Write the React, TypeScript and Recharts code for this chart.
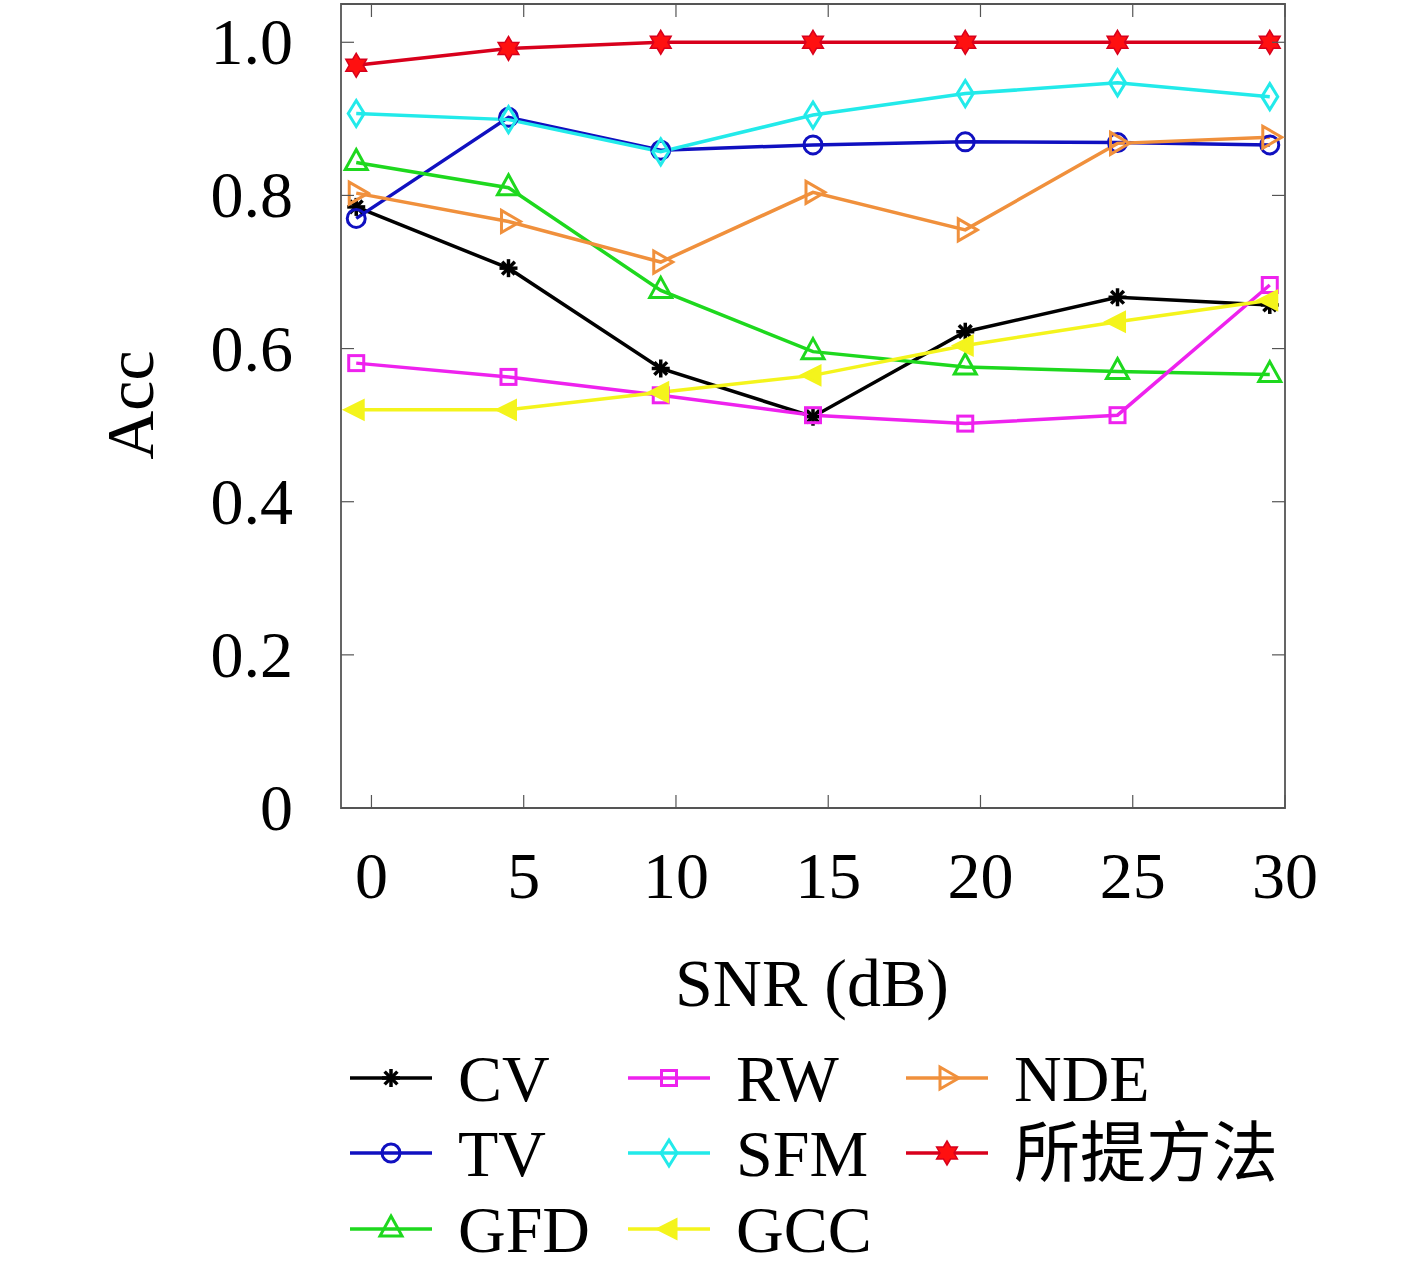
import React from "react";
import {
  LineChart,
  Line,
  XAxis,
  YAxis,
  ReferenceArea,
} from "recharts";

// SNR positions as the points sit on the axis (each about 0.5 dB left of its tick)
const snrPlotted = [-0.5, 4.5, 9.5, 14.5, 19.5, 24.5, 29.5];
const xTicks = [0, 5, 10, 15, 20, 25, 30];
const yTicks = [0, 0.2, 0.4, 0.6, 0.8, 1.0];

const cv = [0.785, 0.705, 0.574, 0.511, 0.622, 0.667, 0.657];
const tv = [0.77, 0.902, 0.859, 0.866, 0.87, 0.869, 0.866];
const gfd = [0.843, 0.81, 0.676, 0.596, 0.576, 0.57, 0.566];
const rw = [0.581, 0.563, 0.539, 0.513, 0.502, 0.513, 0.683];
const sfm = [0.907, 0.899, 0.857, 0.905, 0.933, 0.947, 0.929];
const gcc = [0.52, 0.52, 0.543, 0.565, 0.604, 0.635, 0.663];
const nde = [0.803, 0.766, 0.713, 0.804, 0.755, 0.868, 0.876];
const proposed = [0.97, 0.992, 1.0, 1.0, 1.0, 1.0, 1.0];

const series = [
  { key: "CV", values: cv, color: "#000000", marker: "asterisk" },
  { key: "TV", values: tv, color: "#1010c0", marker: "circle" },
  { key: "GFD", values: gfd, color: "#1ed81e", marker: "triangle" },
  { key: "RW", values: rw, color: "#ee22ee", marker: "square" },
  { key: "SFM", values: sfm, color: "#22eaea", marker: "diamond" },
  { key: "GCC", values: gcc, color: "#f4f41c", marker: "left" },
  { key: "NDE", values: nde, color: "#f0903c", marker: "right" },
  { key: "所提方法", values: proposed, color: "#d8001c", marker: "hexagram" },
];

const data = snrPlotted.map((snr, i) => {
  const row: Record<string, number> = { snr };
  series.forEach((s) => {
    row[s.key] = s.values[i];
  });
  return row;
});

const W = 1417;
const H = 1275;
const PLOT_LEFT = 341;
const PLOT_RIGHT = 1285;
const PLOT_TOP = 4;
const PLOT_BOTTOM = 808;
const AXIS_W = 60;
const FONT = '"Liberation Serif", "Noto Sans CJK SC", serif';
const FS = 66;
const FRAME = "#555555";
const TICK_LEN = 13;
const LINE_W = 3.5;

const Marker = ({ type, cx, cy, color }: any) => {
  if (cx == null || cy == null) return null;
  const sw = 3;
  switch (type) {
    case "asterisk": {
      const r = 9;
      const lines = [0, 45, 90, 135].map((a) => {
        const rad = (a * Math.PI) / 180;
        return (
          <line
            key={a}
            x1={cx - r * Math.cos(rad)}
            y1={cy - r * Math.sin(rad)}
            x2={cx + r * Math.cos(rad)}
            y2={cy + r * Math.sin(rad)}
            stroke={color}
            strokeWidth={3.5}
          />
        );
      });
      return <g>{lines}</g>;
    }
    case "circle":
      return <circle cx={cx} cy={cy} r={9} fill="none" stroke={color} strokeWidth={sw} />;
    case "square":
      return (
        <rect x={cx - 7.5} y={cy - 7.5} width={15} height={15} fill="none" stroke={color} strokeWidth={sw} />
      );
    case "diamond":
      return (
        <polygon
          points={`${cx},${cy - 13} ${cx + 8},${cy} ${cx},${cy + 13} ${cx - 8},${cy}`}
          fill="none"
          stroke={color}
          strokeWidth={sw}
        />
      );
    case "triangle":
      return (
        <polygon
          points={`${cx},${cy - 13} ${cx + 11},${cy + 7} ${cx - 11},${cy + 7}`}
          fill="none"
          stroke={color}
          strokeWidth={sw}
        />
      );
    case "right":
      return (
        <polygon
          points={`${cx + 12},${cy} ${cx - 7},${cy - 11} ${cx - 7},${cy + 11}`}
          fill="none"
          stroke={color}
          strokeWidth={sw}
        />
      );
    case "left":
      return (
        <polygon
          points={`${cx - 11},${cy} ${cx + 7},${cy - 9} ${cx + 7},${cy + 9}`}
          fill={color}
          stroke={color}
          strokeWidth={sw}
        />
      );
    case "hexagram": {
      const pts: string[] = [];
      for (let k = 0; k < 12; k++) {
        const r = k % 2 === 0 ? 12 : 7;
        const a = (k * 30 - 90) * (Math.PI / 180);
        pts.push(`${cx + r * Math.cos(a)},${cy + r * Math.sin(a)}`);
      }
      return <polygon points={pts.join(" ")} fill="#ff1010" stroke={color} strokeWidth={1.5} />;
    }
    default:
      return null;
  }
};

const YTick = (props: any) => {
  const { y, payload } = props;
  const v = payload.value;
  return (
    <g>
      <line x1={PLOT_LEFT} y1={y} x2={PLOT_LEFT + TICK_LEN} y2={y} stroke={FRAME} strokeWidth={1.2} />
      <line x1={PLOT_RIGHT} y1={y} x2={PLOT_RIGHT - TICK_LEN} y2={y} stroke={FRAME} strokeWidth={1.2} />
      <text x={PLOT_LEFT - 48} y={y + 22} textAnchor="end" fontFamily={FONT} fontSize={FS} fill="#000">
        {v === 0 ? "0" : v.toFixed(1)}
      </text>
    </g>
  );
};

const XTick = (props: any) => {
  const { x, payload } = props;
  return (
    <g>
      <line x1={x} y1={PLOT_BOTTOM} x2={x} y2={PLOT_BOTTOM - TICK_LEN} stroke={FRAME} strokeWidth={1.2} />
      <line x1={x} y1={PLOT_TOP} x2={x} y2={PLOT_TOP + TICK_LEN} stroke={FRAME} strokeWidth={1.2} />
      <text x={x} y={PLOT_BOTTOM + 90} textAnchor="middle" fontFamily={FONT} fontSize={FS} fill="#000">
        {payload.value}
      </text>
    </g>
  );
};

const colX = [350, 628, 906];
const rowY = [1078, 1153, 1229];
const LEGEND_TOP = 1020;

const LegendBox = () => (
  <svg
    width={W}
    height={H - LEGEND_TOP}
    style={{ position: "absolute", left: 0, top: LEGEND_TOP, display: "block" }}
  >
    {series.map((s, i) => {
      const col = Math.floor(i / 3);
      const row = i % 3;
      const x0 = colX[col];
      const y0 = rowY[row] - LEGEND_TOP;
      return (
        <g key={s.key}>
          <line x1={x0} y1={y0} x2={x0 + 82} y2={y0} stroke={s.color} strokeWidth={LINE_W} />
          <Marker type={s.marker} cx={x0 + 41} cy={y0} color={s.color} />
          <text x={x0 + 108} y={y0 + 23} fontFamily={FONT} fontSize={FS} fill="#000">
            {s.key}
          </text>
        </g>
      );
    })}
  </svg>
);

const App = () => {
  return (
    <div style={{ position: "absolute", left: 0, top: 0, width: W, height: H, background: "#fff" }}>
      <div style={{ position: "absolute", left: 0, top: 0 }}>
        <LineChart
          width={W}
          height={H}
          data={data}
          margin={{
            top: PLOT_TOP,
            right: W - PLOT_RIGHT,
            bottom: H - PLOT_BOTTOM - AXIS_W,
            left: PLOT_LEFT - AXIS_W,
          }}
        >
          <XAxis
            dataKey="snr"
            type="number"
            domain={[-1, 30]}
            ticks={xTicks}
            height={AXIS_W}
            axisLine={false}
            tickLine={false}
            tick={XTick}
            interval={0}
            allowDataOverflow
          />
          <YAxis
            type="number"
            domain={[0, 1.05]}
            ticks={yTicks}
            width={AXIS_W}
            axisLine={false}
            tickLine={false}
            tick={YTick}
            interval={0}
            allowDataOverflow
          />
          <ReferenceArea
            x1={-1}
            x2={30}
            y1={0}
            y2={1.05}
            fill="none"
            stroke={FRAME}
            strokeWidth={1.8}
            ifOverflow="visible"
          />
          {series.map((s) => (
            <Line
              key={s.key}
              dataKey={s.key}
              stroke={s.color}
              strokeWidth={LINE_W}
              isAnimationActive={false}
              dot={(p: any) => (
                <Marker key={`${s.key}-${p.index}`} type={s.marker} cx={p.cx} cy={p.cy} color={s.color} />
              )}
              activeDot={false}
            />
          ))}
          <text
            x={153}
            y={405}
            transform="rotate(-90 153 405)"
            textAnchor="middle"
            fontFamily={FONT}
            fontSize={FS + 2}
            fill="#000"
          >
            Acc
          </text>
          <text x={812} y={1006} textAnchor="middle" fontFamily={FONT} fontSize={FS + 2} fill="#000">
            SNR (dB)
          </text>
        </LineChart>
      </div>
      <LegendBox />
    </div>
  );
};

export default App;
